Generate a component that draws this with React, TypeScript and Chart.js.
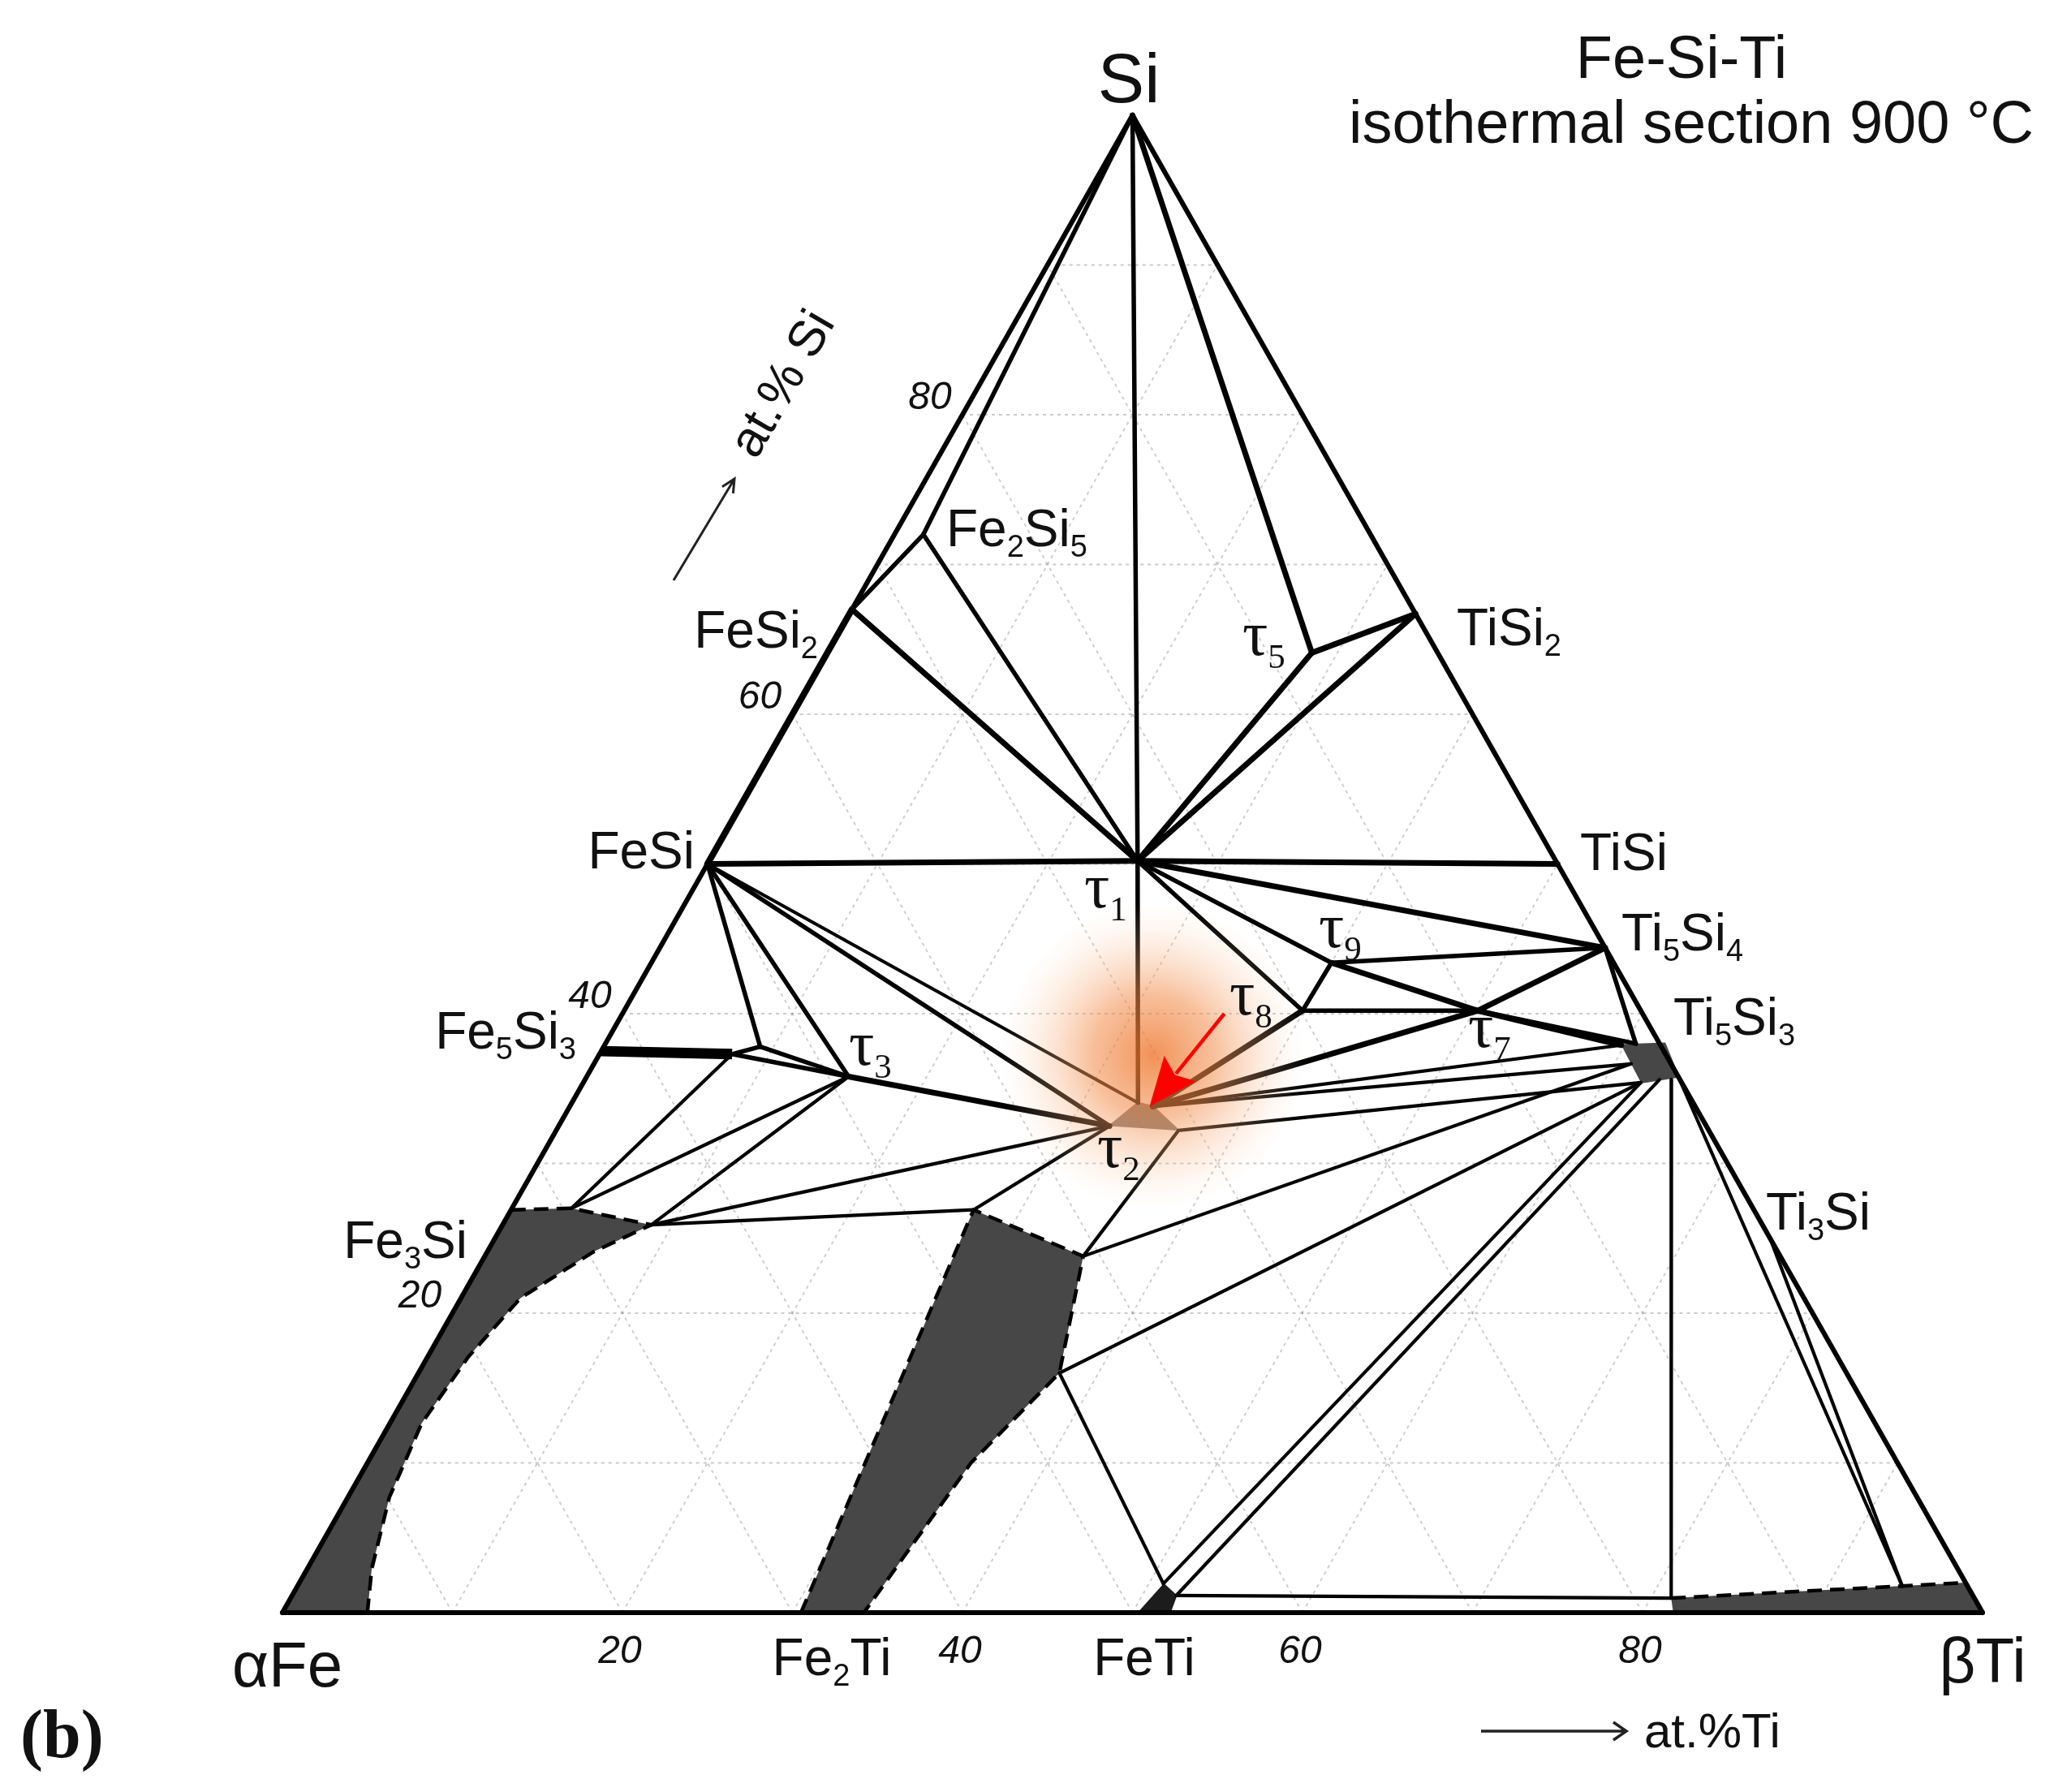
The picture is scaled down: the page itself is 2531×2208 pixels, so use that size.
import React, { useEffect, useRef } from "react";
import { Chart, registerables } from "chart.js";

Chart.register(...registerables);

type P = [number, number]; // [at.% Ti, at.% Si]

const W = 2531;
const H = 2208;

// ---------- corners ----------
const FE_CORNER: P = [0, 0];
const TI_CORNER: P = [100, 0];
const SI_CORNER: P = [0, 100];

// ---------- binary compounds ----------
const FE2SI5: P = [1.7, 72];
const FESI2: P = [0, 67];
const FESI: P = [0, 50];
const FE5SI3: P = [0, 37.5];
const FE5SI3_END: P = [7.8, 37.3];
const FE5SI3_TIP: P = [9.2, 37.8];
const TISI2: P = [33.3, 66.7];
const TISI: P = [50, 50];
const TI5SI4: P = [55.6, 44.4];
const TI3SI: P = [75, 25];

// ---------- ternary compounds ----------
const TAU1: P = [25.2, 50.2];
const TAU3: P = [15.4, 35.8];
const TAU5: P = [28.5, 64.1];
const TAU7: P = [50.2, 40.2];
const TAU8: P = [39.9, 40.2];
const TAU9: P = [40.0, 43.4];

// ---------- homogeneity regions ----------
const TAU2_REGION: P[] = [[32.4, 32.5], [33.3, 34.05], [34.3, 33.8], [36.6, 32.2]];
const TI5SI3_REGION: P[] = [[59.8, 37.9], [62.3, 38.0], [64.2, 35.8], [62.2, 35.4]];
const FETI_REGION: P[] = [[50.3, 0], [52.2, 0], [52.0, 1.14], [50.85, 1.93]];
const BETA_TI_REGION: P[] = [[81.8, 0], [81.2, 0.97], [98.0, 2.0], [100, 0]];
const ALPHA_FE_BOUNDARY: P[] = [
  [0, 26.9], [3.5, 27.0], [8.75, 25.9], [6.25, 24.1], [3.5, 21.0],
  [2.4, 17.1], [1.87, 12.65], [2.44, 7.7], [3.8, 2.9], [5.0, 0],
];
const FE2TI_REGION: P[] = [[30.5, 0], [27.2, 26.9], [35.2, 23.8], [37.7, 16.0], [35.5, 10.0], [34.2, 0]];

// ---------- extra tie-line anchors ----------
const TI5SI3_TOP: P = [60.6, 38.0];
const TI5SI3_LEFT: P = [61.0, 36.65];
const TI5SI3_BOT: P = [63.2, 35.6];
const TI5SI3_BOT2: P = [63.9, 35.6];
const BETA_TI_POINT: P = [94.4, 1.76];

const [T2_L, T2_TL, T2_TR, T2_R] = TAU2_REGION;
const [Q_TL, , Q_BR, Q_BL] = TI5SI3_REGION;
const [, , FETI_TR, FETI_TL] = FETI_REGION;
const BTI_TL = BETA_TI_REGION[1];
const AFE_N1 = ALPHA_FE_BOUNDARY[1];
const AFE_N2 = ALPHA_FE_BOUNDARY[2];
const FE2TI_TL = FE2TI_REGION[1];
const FE2TI_TR = FE2TI_REGION[2];
const FE2TI_RM = FE2TI_REGION[3];

// ---------- tie lines ----------
const HEAVY_TIES: P[][] = [
  [FESI, TAU1], [FESI2, TAU1], [SI_CORNER, TAU5], [TAU5, TISI2], [TAU5, TAU1],
  [TISI2, TAU1], [TAU1, TISI], [TAU1, TI5SI4], [TAU9, TAU7], [TI5SI4, TAU7],
  [TAU7, Q_TL], [TAU8, T2_TR], [TAU7, T2_TR], [TAU3, T2_L],
];
const MEDIUM_TIES: P[][] = [
  [SI_CORNER, FE2SI5], [FE2SI5, FESI2], [FE2SI5, TAU1], [SI_CORNER, TAU1], [TAU1, T2_TL],
  [TAU1, TAU9], [TAU1, TAU8], [TAU9, TI5SI4], [TAU9, TAU8], [TAU8, TAU7],
  [TAU7, TI5SI3_TOP], [TI5SI4, TI5SI3_TOP], [FESI, T2_L], [FESI, TAU3], [FESI, FE5SI3_TIP],
  [FE5SI3_TIP, TAU3], [FE5SI3_END, TAU3], [FE5SI3_END, FE5SI3_TIP],
];
const LIGHT_TIES: P[][] = [
  [FESI, T2_TL], [FE5SI3_END, AFE_N1], [AFE_N1, TAU3], [AFE_N2, TAU3], [AFE_N2, T2_L],
  [AFE_N2, FE2TI_TL], [FE2TI_TL, T2_L], [FE2TI_TR, T2_R], [FE2TI_TR, TI5SI3_LEFT],
  [FE2TI_RM, Q_BL], [FE2TI_RM, FETI_TL], [FETI_TL, Q_BL], [FETI_TR, TI5SI3_BOT],
  [FETI_TR, BTI_TL], [TI5SI3_BOT2, BTI_TL], [Q_BR, BETA_TI_POINT], [TI3SI, BETA_TI_POINT],
  [T2_TR, Q_TL], [T2_TR, TI5SI3_LEFT], [T2_R, Q_BL],
];
const EDGES: P[][] = [[FE_CORNER, TI_CORNER], [FE_CORNER, FESI], [FESI2, SI_CORNER], [SI_CORNER, TI_CORNER]];
const HEAVY_EDGE: P[] = [FESI, FESI2];
const FE5SI3_BAR: P[] = [FE5SI3, FE5SI3_END];

// ---------- grid & ticks ----------
const GRID_LEVELS = [10, 20, 30, 40, 50, 60, 70, 80, 90];
const TI_TICKS = [20, 40, 60, 80];
const SI_TICKS = [20, 40, 60, 80];

// ---------- highlight ----------
const GLOW_CENTER: P = [32.6, 37.2];
const ARROW_FROM: P = [35.4, 40.0];
const ARROW_TO: P = [34.1, 33.8];

const SANS = '"Liberation Sans", Arial, Helvetica, sans-serif';
const SERIF = '"Liberation Serif", "Times New Roman", serif';
const INK = "#000";

const xy = (p: P) => ({ x: p[0] + p[1] / 2, y: p[1] });

function lineDs(pts: P[], width: number, extra: any = {}) {
  return {
    data: pts.map(xy),
    showLine: true,
    borderColor: INK,
    borderWidth: width,
    pointRadius: 0,
    pointHoverRadius: 0,
    fill: false,
    clip: false,
    borderCapStyle: "round",
    borderJoinStyle: "round",
    order: 1,
    ...extra,
  };
}

function fillDs(pts: P[], color: string, border = 0) {
  return {
    data: pts.map(xy),
    showLine: true,
    borderColor: color,
    borderWidth: border,
    backgroundColor: color,
    pointRadius: 0,
    pointHoverRadius: 0,
    fill: "shape",
    clip: false,
    order: 5,
  };
}

function drawFormula(ctx: CanvasRenderingContext2D, text: string, x: number, baseline: number, size: number,
  align: "left" | "right" | "center", family = SANS, subScale = 0.6, subDrop = 0.2) {
  const parts: { t: string; sub: boolean; w: number }[] = [];
  for (const ch of text) {
    const sub = /[0-9]/.test(ch);
    const last = parts[parts.length - 1];
    if (last && last.sub === sub) last.t += ch;
    else parts.push({ t: ch, sub, w: 0 });
  }
  let total = 0;
  for (const p of parts) {
    ctx.font = `${p.sub ? Math.round(size * subScale) : size}px ${family}`;
    p.w = ctx.measureText(p.t).width;
    total += p.w;
  }
  let cx = align === "left" ? x : align === "right" ? x - total : x - total / 2;
  ctx.textAlign = "left";
  ctx.textBaseline = "alphabetic";
  for (const p of parts) {
    ctx.font = `${p.sub ? Math.round(size * subScale) : size}px ${family}`;
    ctx.fillText(p.t, cx, p.sub ? baseline + size * subDrop : baseline);
    cx += p.w;
  }
}

const decorPlugin = {
  id: "decor",
  afterDatasetsDraw(chart: any) {
    const { ctx, scales } = chart;
    const px = (p: P) => [scales.x.getPixelForValue(p[0] + p[1] / 2), scales.y.getPixelForValue(p[1])];
    // orange glow
    const [gx, gy] = px(GLOW_CENTER);
    const r = 190;
    const g = ctx.createRadialGradient(gx, gy, 0, gx, gy, r);
    g.addColorStop(0, "rgba(238,115,40,0.78)");
    g.addColorStop(0.4, "rgba(242,140,75,0.55)");
    g.addColorStop(0.75, "rgba(248,185,140,0.22)");
    g.addColorStop(1, "rgba(255,225,200,0)");
    ctx.save();
    ctx.fillStyle = g;
    ctx.beginPath();
    ctx.arc(gx, gy, r, 0, Math.PI * 2);
    ctx.fill();
    // red arrow
    const [x1, y1] = px(ARROW_FROM);
    const [x2, y2] = px(ARROW_TO);
    const a = Math.atan2(y2 - y1, x2 - x1);
    const hl = 60, hw = 25;
    const bx = x2 - hl * Math.cos(a), by = y2 - hl * Math.sin(a);
    ctx.strokeStyle = "#ff0000";
    ctx.fillStyle = "#ff0000";
    ctx.lineWidth = 4.5;
    ctx.beginPath();
    ctx.moveTo(x1, y1);
    ctx.lineTo(bx + 8 * Math.cos(a), by + 8 * Math.sin(a));
    ctx.stroke();
    ctx.beginPath();
    ctx.moveTo(x2, y2);
    ctx.lineTo(bx + hw * Math.sin(a), by - hw * Math.cos(a));
    ctx.lineTo(bx + 10 * Math.cos(a), by + 10 * Math.sin(a));
    ctx.lineTo(bx - hw * Math.sin(a), by + hw * Math.cos(a));
    ctx.closePath();
    ctx.fill();
    ctx.restore();
  },
  afterDraw(chart: any) {
    const { ctx, scales } = chart;
    const px = (p: P) => [scales.x.getPixelForValue(p[0] + p[1] / 2), scales.y.getPixelForValue(p[1])];
    ctx.save();
    ctx.fillStyle = "#111";
    // apex & corners
    drawFormula(ctx, "Si", 1391, 126, 86, "center");
    drawFormula(ctx, "αFe", 354, 2078, 78, "center");
    drawFormula(ctx, "βTi", 2443, 2073, 78, "center");
    drawFormula(ctx, "Fe2Ti", 1025, 2064, 64, "center");
    drawFormula(ctx, "FeTi", 1410, 2064, 64, "center");
    // phases on the left
    drawFormula(ctx, "Fe2Si5", 1166, 673, 64, "left");
    drawFormula(ctx, "FeSi2", 1008, 798, 64, "right");
    drawFormula(ctx, "FeSi", 856, 1070, 64, "right");
    drawFormula(ctx, "Fe5Si3", 710, 1292, 64, "right");
    drawFormula(ctx, "Fe3Si", 576, 1550, 64, "right");
    // phases on the right
    drawFormula(ctx, "TiSi2", 1795, 795, 64, "left");
    drawFormula(ctx, "TiSi", 1947, 1072, 64, "left");
    drawFormula(ctx, "Ti5Si4", 1998, 1171, 64, "left");
    drawFormula(ctx, "Ti5Si3", 2062, 1275, 64, "left");
    drawFormula(ctx, "Ti3Si", 2176, 1515, 64, "left");
    // tau labels
    const taus: [string, number, number][] = [
      ["τ1", 1336, 1118], ["τ2", 1352, 1438], ["τ3", 1046, 1312], ["τ5", 1531, 807],
      ["τ7", 1809, 1290], ["τ8", 1515, 1250], ["τ9", 1625, 1167],
    ];
    for (const [t, x, b] of taus) drawFormula(ctx, t, x, b, 78, "left", SERIF, 0.55, 0.2);
    // ticks
    ctx.font = `italic 48px ${SANS}`;
    ctx.textAlign = "center";
    ctx.textBaseline = "middle";
    for (const v of TI_TICKS) {
      ctx.fillText(String(v), scales.x.getPixelForValue(v) - 3, 2036);
    }
    for (const v of SI_TICKS) {
      const [ex, ey] = px([0, v]);
      ctx.fillText(String(v), ex - 40, ey - 20);
    }
    // title
    ctx.font = `74px ${SANS}`;
    ctx.textAlign = "center";
    ctx.textBaseline = "alphabetic";
    ctx.fillText("Fe-Si-Ti", 2072, 96);
    ctx.fillText("isothermal section 900 °C", 2084, 176);
    // (b)
    ctx.font = `bold 84px ${SERIF}`;
    ctx.textAlign = "left";
    ctx.fillText("(b)", 25, 2165);
    // at.%Ti
    ctx.font = `60px ${SANS}`;
    ctx.fillText("at.%Ti", 2026, 2153);
    ctx.strokeStyle = "#222";
    ctx.lineWidth = 3.5;
    ctx.beginPath();
    ctx.moveTo(1825, 2133);
    ctx.lineTo(2003, 2133);
    ctx.moveTo(1988, 2122);
    ctx.lineTo(2004, 2133);
    ctx.lineTo(1988, 2144);
    ctx.stroke();
    // at.% Si (rotated)
    ctx.save();
    ctx.translate(966, 474);
    ctx.rotate(-Math.PI / 3);
    ctx.font = `62px ${SANS}`;
    ctx.textAlign = "center";
    ctx.textBaseline = "middle";
    ctx.fillText("at.% Si", 0, 0);
    ctx.restore();
    ctx.lineWidth = 3;
    ctx.beginPath();
    ctx.moveTo(830, 715);
    ctx.lineTo(905, 590);
    const aa = Math.atan2(590 - 715, 905 - 830);
    ctx.moveTo(905 - 18 * Math.cos(aa - 0.45), 590 - 18 * Math.sin(aa - 0.45));
    ctx.lineTo(905, 590);
    ctx.lineTo(905 - 18 * Math.cos(aa + 0.45), 590 - 18 * Math.sin(aa + 0.45));
    ctx.stroke();
    ctx.restore();
  },
};

export default function App() {
  const ref = useRef<HTMLCanvasElement>(null);
  useEffect(() => {
    const canvas = ref.current;
    if (!canvas) return;

    const gridSegments: P[][] = [];
    for (const v of GRID_LEVELS) {
      gridSegments.push([[0, v], [100 - v, v]]);
      gridSegments.push([[v, 0], [v, 100 - v]]);
      gridSegments.push([[100 - v, 0], [0, 100 - v]]);
    }

    const datasets: any[] = [];
    for (const s of gridSegments) {
      datasets.push(lineDs(s, 1.8, { borderColor: "rgba(150,150,150,0.5)", borderDash: [4, 5], borderCapStyle: "butt", order: 10 }));
    }
    datasets.push(fillDs([FE_CORNER, ...ALPHA_FE_BOUNDARY], "#474747"));
    datasets.push(fillDs(FE2TI_REGION, "#474747"));
    datasets.push(fillDs(FETI_REGION, "#1c1c1c", 2));
    datasets.push(fillDs(BETA_TI_REGION, "#474747"));
    datasets.push(fillDs(TI5SI3_REGION, "#474747", 2.5));
    datasets.push(fillDs(TAU2_REGION, "#787878", 2.5));
    const dashed = { borderDash: [18, 10], borderCapStyle: "butt", order: 3 };
    datasets.push(lineDs(ALPHA_FE_BOUNDARY, 4.5, dashed));
    datasets.push(lineDs(FE2TI_REGION, 4.5, dashed));
    datasets.push(lineDs([BETA_TI_REGION[1], BETA_TI_REGION[2]], 4.5, dashed));
    for (const e of EDGES) datasets.push(lineDs(e, 6));
    datasets.push(lineDs(HEAVY_EDGE, 8));
    datasets.push(lineDs(FE5SI3_BAR, 13, { borderCapStyle: "butt" }));
    for (const s of HEAVY_TIES) datasets.push(lineDs(s, 7));
    for (const s of MEDIUM_TIES) datasets.push(lineDs(s, 5.5));
    for (const s of LIGHT_TIES) datasets.push(lineDs(s, 4.2));

    const chart = new Chart(canvas, {
      type: "scatter",
      data: { datasets },
      options: {
        animation: false,
        responsive: false,
        devicePixelRatio: 1,
        events: [],
        layout: { padding: { left: 348, right: W - 2443, top: 142, bottom: H - 1987 } },
        scales: {
          x: { type: "linear", min: 0, max: 100, display: false },
          y: { type: "linear", min: 0, max: 100, display: false },
        },
        plugins: { legend: { display: false }, tooltip: { enabled: false }, title: { display: false } },
      },
      plugins: [decorPlugin],
    } as any);
    return () => chart.destroy();
  }, []);

  return (
    <div style={{ position: "absolute", left: 0, top: 0, width: W, height: H, background: "#fff" }}>
      <canvas ref={ref} width={W} height={H} style={{ width: W, height: H, display: "block" }} />
    </div>
  );
}
